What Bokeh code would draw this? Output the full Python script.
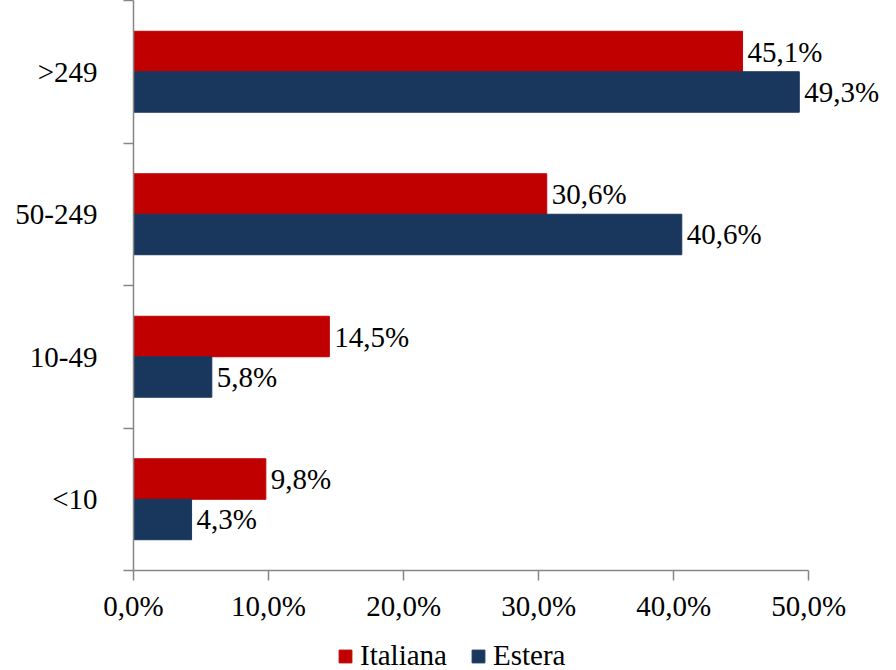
from bokeh.plotting import figure
from bokeh.models import ColumnDataSource, FixedTicker, Legend, LegendItem, Range1d, LabelSet
from bokeh.layouts import column
from bokeh.embed import file_html
from bokeh.resources import INLINE

categories = ["<10", "10-49", "50-249", ">249"]
italiana = [9.8, 14.5, 30.6, 45.1]
estera = [4.3, 5.8, 40.6, 49.3]
series_names = ["Italiana", "Estera"]
x_ticks = [0, 10, 20, 30, 40, 50]
x_tick_labels = ["0,0%", "10,0%", "20,0%", "30,0%", "40,0%", "50,0%"]

RED = "#C00000"
BLUE = "#19375D"
FONT = "Liberation Serif"
GRAY = "#868686"
FS = "29px"

pos = [i + 0.5 for i in range(len(categories))]
bh = 0.284

def fmt(v):
    return f"{v:.1f}".replace(".", ",") + "%"

src_it = ColumnDataSource(dict(y=[p + bh / 2 for p in pos], v=italiana, lab=[fmt(v) for v in italiana]))
src_es = ColumnDataSource(dict(y=[p - bh / 2 for p in pos], v=estera, lab=[fmt(v) for v in estera]))

p = figure(width=896, height=632, output_backend="svg", toolbar_location=None,
           x_range=Range1d(0, 56.5), y_range=Range1d(0, 4),
           min_border_left=133, min_border_right=0, min_border_top=0, min_border_bottom=62)
p.outline_line_color = None
p.grid.grid_line_color = None
p.background_fill_color = "white"

r_it = p.hbar(y="y", right="v", left=0, height=bh, source=src_it, fill_color=RED, line_color=RED)
r_es = p.hbar(y="y", right="v", left=0, height=bh, source=src_es, fill_color=BLUE, line_color=BLUE)

for src in (src_it, src_es):
    p.add_layout(LabelSet(x="v", y="y", text="lab", source=src, x_offset=5,
                          text_baseline="middle", text_font=FONT, text_font_size=FS,
                          text_color="black"))

xa = p.xaxis[0]
xa.ticker = FixedTicker(ticks=x_ticks)
xa.major_label_overrides = {t: l for t, l in zip(x_ticks, x_tick_labels)}
xa.bounds = (0, 50)
xa.axis_line_color = GRAY
xa.axis_line_width = 1.5
xa.major_tick_line_color = GRAY
xa.major_tick_line_width = 1.5
xa.major_tick_in = 0
xa.major_tick_out = 10
xa.minor_tick_line_color = None
xa.major_label_text_font = FONT
xa.major_label_text_font_size = FS
xa.major_label_text_color = "black"
xa.major_label_standoff = 9

ya = p.yaxis[0]
ya.ticker = FixedTicker(ticks=pos, minor_ticks=[0, 1, 2, 3, 4])
ya.major_label_overrides = {t: c for t, c in zip(pos, categories)}
ya.axis_line_color = GRAY
ya.axis_line_width = 1.5
ya.major_tick_line_color = None
ya.major_tick_in = 0
ya.major_tick_out = 0
ya.minor_tick_line_color = GRAY
ya.minor_tick_line_width = 1.5
ya.minor_tick_in = 0
ya.minor_tick_out = 10
ya.major_label_text_font = FONT
ya.major_label_text_font_size = FS
ya.major_label_text_color = "black"
ya.major_label_standoff = 26

# legend strip below the chart
lg = figure(width=896, height=38, output_backend="svg", toolbar_location=None,
            x_range=Range1d(0, 1), y_range=Range1d(0, 1),
            min_border=0, outline_line_color=None)
lg.axis.visible = False
lg.grid.grid_line_color = None
l_it = lg.hbar(y="y", right="v", left=0, height=bh, source=src_it, fill_color=RED, line_color=RED, visible=False)
l_es = lg.hbar(y="y", right="v", left=0, height=bh, source=src_es, fill_color=BLUE, line_color=BLUE, visible=False)
legend = Legend(items=[LegendItem(label=series_names[0], renderers=[l_it]),
                       LegendItem(label=series_names[1], renderers=[l_es])],
                orientation="horizontal", location=(204, -2),
                label_text_font=FONT, label_text_font_size=FS, label_text_color="black",
                glyph_width=16, glyph_height=16, label_standoff=7, spacing=23,
                border_line_color=None, background_fill_alpha=0,
                inactive_fill_alpha=0,
                padding=0, margin=0, label_height=29)
lg.add_layout(legend, "center")

layout = column(p, lg, spacing=0)
open("out.html", "w").write(file_html(layout, INLINE))
